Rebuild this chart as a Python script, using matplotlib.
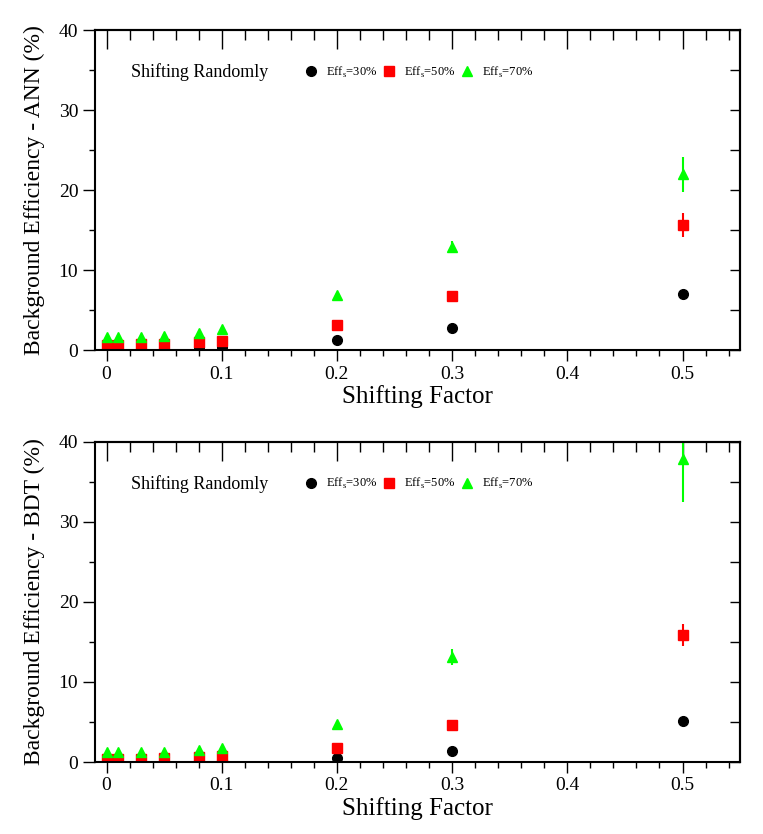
import numpy as np
import matplotlib
matplotlib.use("Agg")
import matplotlib.pyplot as plt
from matplotlib.ticker import MultipleLocator

plt.rcParams['font.family'] = ['Liberation Serif', 'DejaVu Serif']
plt.rcParams['mathtext.fontset'] = 'custom'
plt.rcParams['mathtext.rm'] = 'Liberation Serif'

# shifting factors
shift = [0, 0.01, 0.03, 0.05, 0.08, 0.1, 0.2, 0.3, 0.5]

# ANN background efficiency (%) and errors
ann_30 = [0.15, 0.15, 0.2, 0.2, 0.35, 0.45, 1.3, 2.8, 7.0]
ann_30_err = [0.05, 0.05, 0.05, 0.05, 0.05, 0.05, 0.1, 0.2, 0.5]
ann_50 = [0.7, 0.7, 0.75, 0.8, 1.0, 1.2, 3.1, 6.8, 15.7]
ann_50_err = [0.1, 0.1, 0.1, 0.1, 0.1, 0.1, 0.2, 0.3, 1.5]
ann_70 = [1.6, 1.6, 1.7, 1.8, 2.2, 2.6, 6.9, 12.9, 22.0]
ann_70_err = [0.1, 0.1, 0.1, 0.1, 0.1, 0.1, 0.3, 0.8, 2.2]

# BDT background efficiency (%) and errors
bdt_30 = [0.05, 0.05, 0.05, 0.1, 0.15, 0.2, 0.5, 1.4, 5.1]
bdt_30_err = [0.05, 0.05, 0.05, 0.05, 0.05, 0.05, 0.1, 0.2, 0.3]
bdt_50 = [0.4, 0.4, 0.4, 0.45, 0.6, 0.7, 1.75, 4.6, 15.9]
bdt_50_err = [0.1, 0.1, 0.1, 0.1, 0.1, 0.1, 0.2, 0.3, 1.4]
bdt_70 = [1.2, 1.2, 1.2, 1.3, 1.5, 1.7, 4.8, 13.1, 37.8]
bdt_70_err = [0.1, 0.1, 0.1, 0.1, 0.1, 0.2, 0.3, 1.0, 5.3]

labels = [r"Eff$_\mathrm{s}$=30%", r"Eff$_\mathrm{s}$=50%", r"Eff$_\mathrm{s}$=70%"]
colors = ['black', '#ff0000', '#00ff00']
markers = ['o', 's', '^']
msizes = [7, 6.5, 7]

fig = plt.figure(figsize=(7.63, 8.34), dpi=100)
ax_top = fig.add_axes([0.1245, 0.580, 0.8455, 0.384])
ax_bot = fig.add_axes([0.1245, 0.0863, 0.8455, 0.384])


def draw_panel(ax, series, errs, ylabel):
    handles = []
    for y, e, c, m, ms, lab in zip(series, errs, colors, markers, msizes, labels):
        cont = ax.errorbar(shift, y, yerr=e, fmt=m, color=c, ms=ms, elinewidth=1.5,
                           capsize=0, label=lab)
        handles.append(cont[0])
    ax.set_xlim(-0.01, 0.55)
    ax.set_ylim(0, 40)
    ax.xaxis.set_major_locator(MultipleLocator(0.1))
    ax.xaxis.set_minor_locator(MultipleLocator(0.02))
    ax.yaxis.set_major_locator(MultipleLocator(10))
    ax.yaxis.set_minor_locator(MultipleLocator(5))
    ax.set_xticks([0, 0.1, 0.2, 0.3, 0.4, 0.5])
    ax.set_xticklabels(['0', '0.1', '0.2', '0.3', '0.4', '0.5'])
    for s in ax.spines.values():
        s.set_linewidth(1.5)
    ax.tick_params(axis='x', which='major', direction='out', length=8, width=1, labelsize=14, pad=3)
    ax.tick_params(axis='x', which='minor', direction='out', length=4.5, width=1)
    ax.tick_params(axis='y', which='major', direction='out', length=9, width=1, labelsize=14, pad=3)
    ax.tick_params(axis='y', which='minor', direction='out', length=4.5, width=1)

    # mirrored ticks pointing inwards
    top = ax.secondary_xaxis('top')
    top.xaxis.set_major_locator(MultipleLocator(0.1))
    top.xaxis.set_minor_locator(MultipleLocator(0.02))
    top.tick_params(which='major', direction='in', length=14, width=1, labeltop=False)
    top.tick_params(which='minor', direction='in', length=7, width=1)
    top.spines['top'].set_linewidth(1.5)
    right = ax.secondary_yaxis('right')
    right.yaxis.set_major_locator(MultipleLocator(5))
    right.yaxis.set_minor_locator(MultipleLocator(5))
    right.tick_params(which='major', direction='in', length=7, width=1, labelright=False)
    right.spines['right'].set_linewidth(1.5)

    ax.set_xlabel("Shifting Factor", fontsize=18, labelpad=2)
    ax.set_ylabel(ylabel, fontsize=17, labelpad=10)
    ax.text(0.0214, 34.75, "Shifting Randomly", fontsize=13, va='center', ha='left')
    ax.legend(handles=handles, labels=labels, loc='center left', bbox_to_anchor=(0.3247, 0.869),
              ncol=3, frameon=False, fontsize=9, borderpad=0, handlelength=1.0,
              handletextpad=0.7, columnspacing=0.46, borderaxespad=0)


draw_panel(ax_top, [ann_30, ann_50, ann_70], [ann_30_err, ann_50_err, ann_70_err],
           "Background Efficiency - ANN (%)")
draw_panel(ax_bot, [bdt_30, bdt_50, bdt_70], [bdt_30_err, bdt_50_err, bdt_70_err],
           "Background Efficiency - BDT (%)")

fig.savefig("out.png", dpi=100)
